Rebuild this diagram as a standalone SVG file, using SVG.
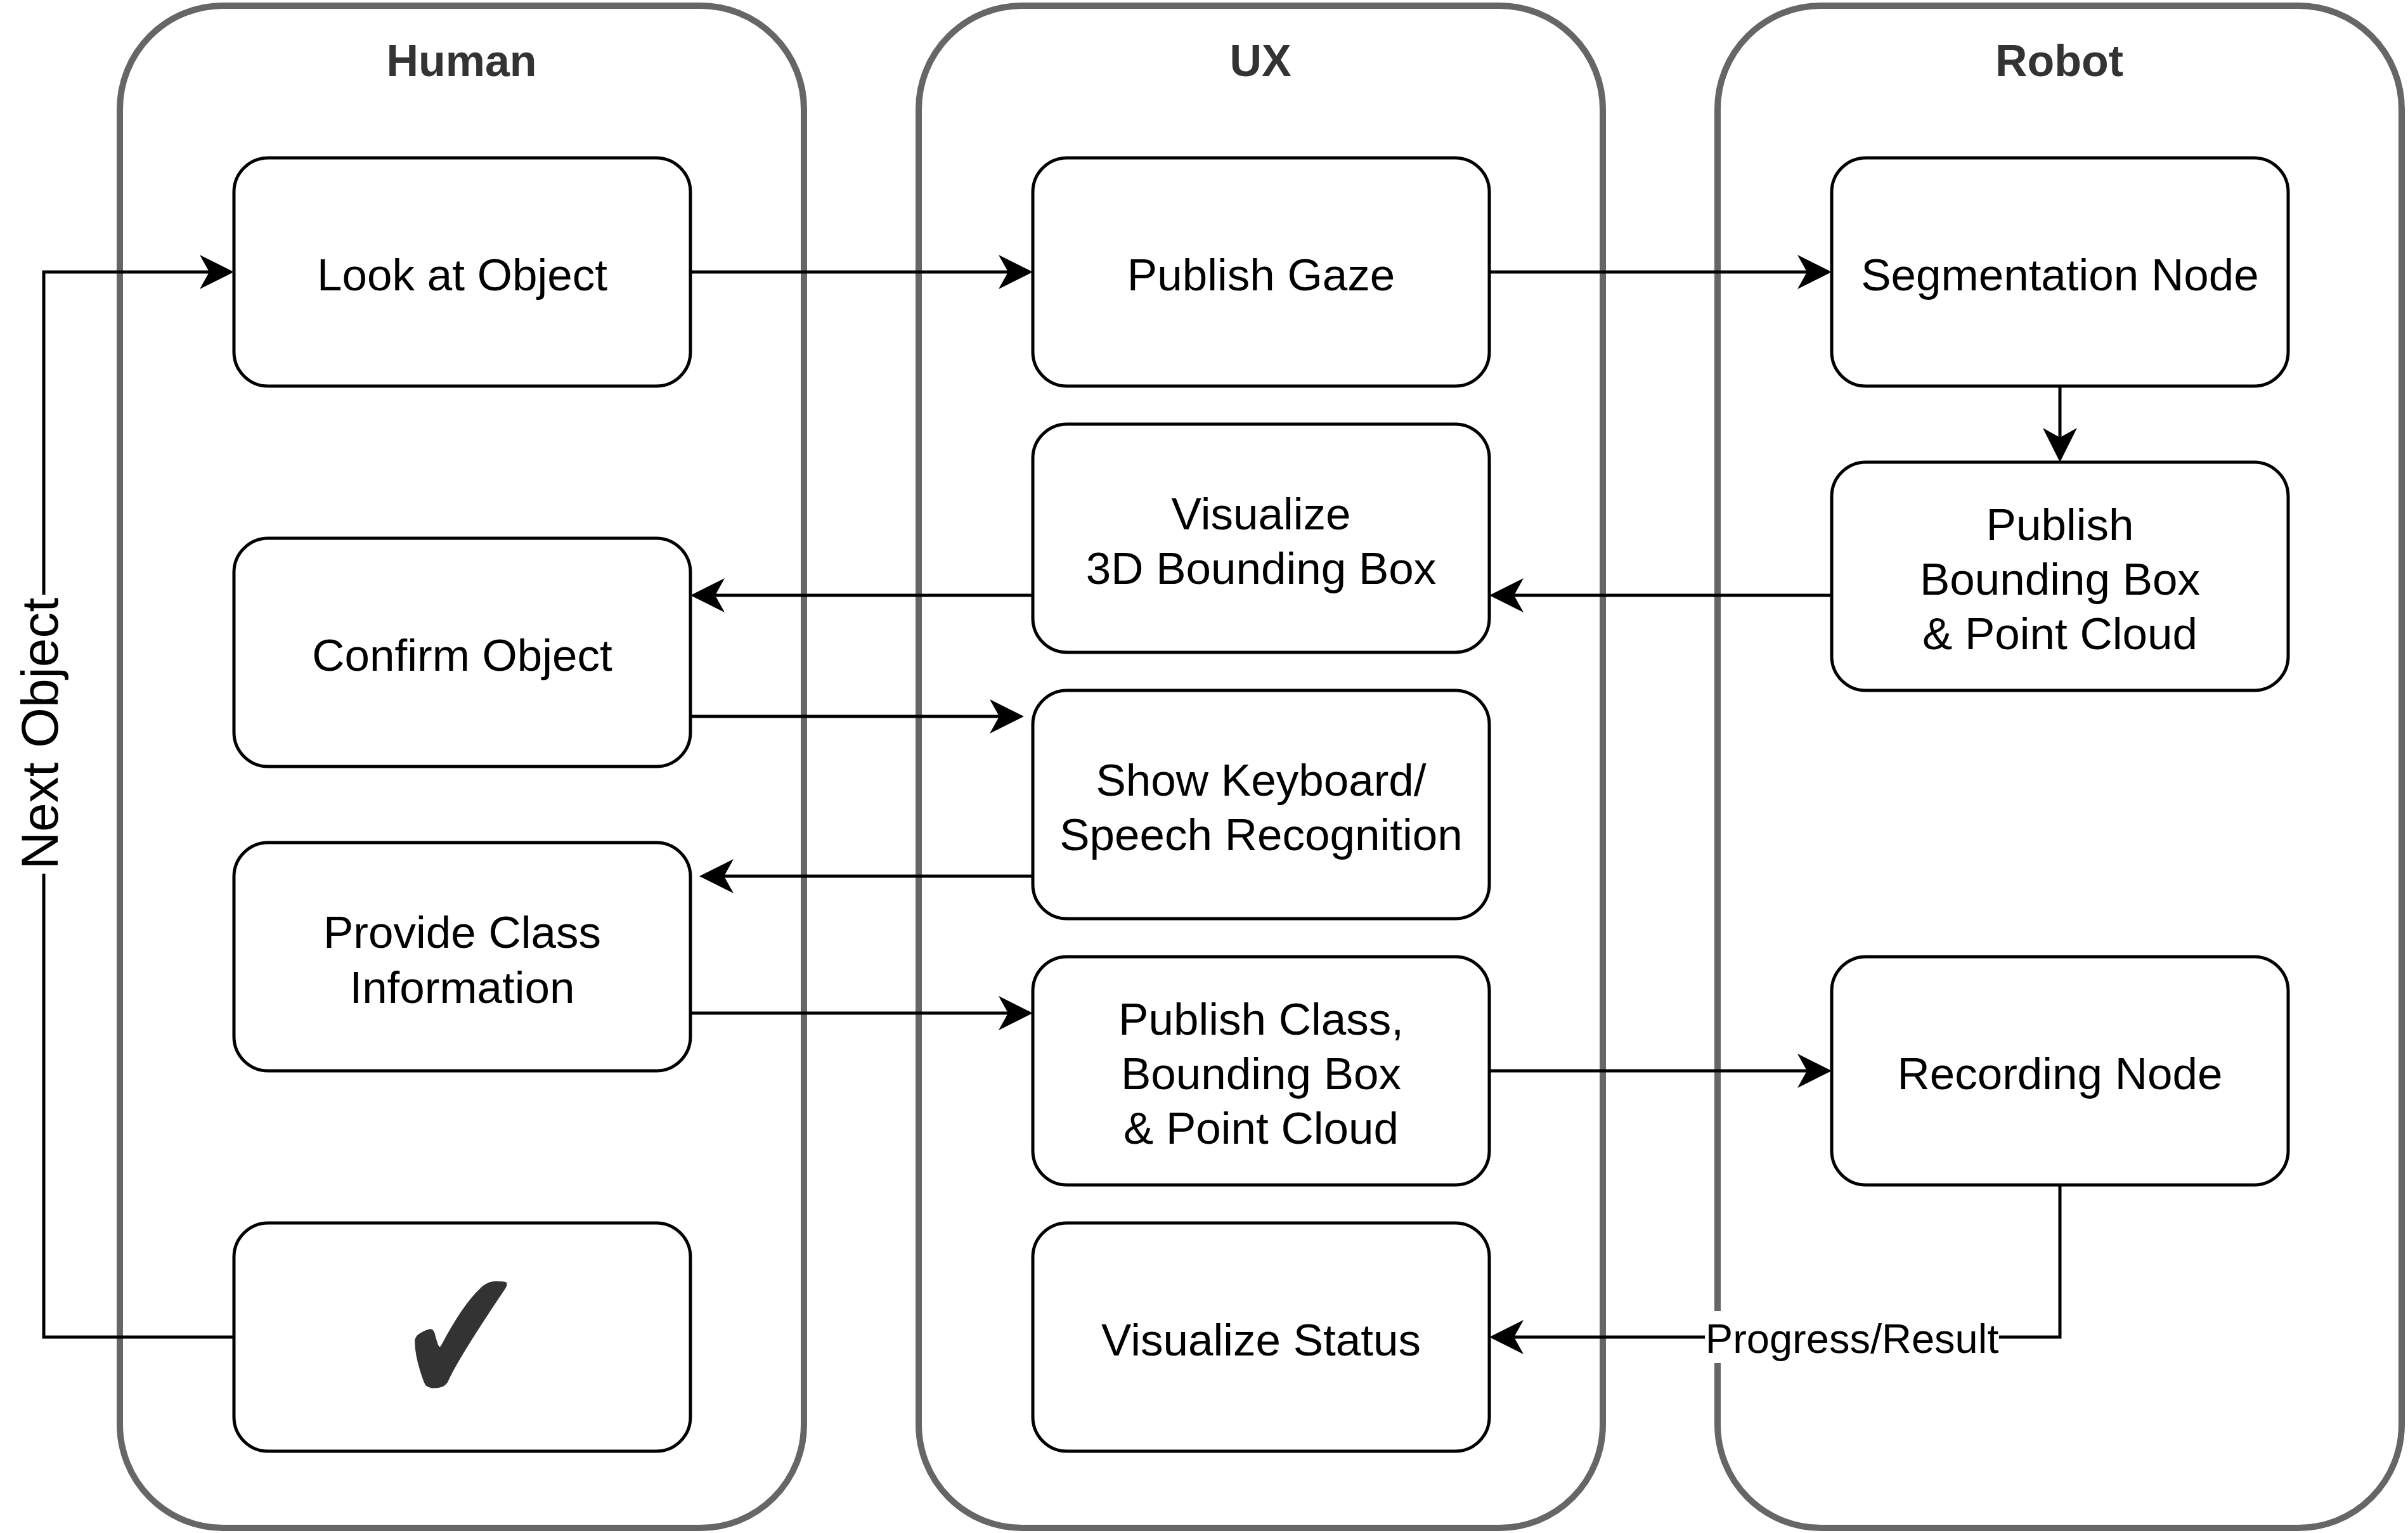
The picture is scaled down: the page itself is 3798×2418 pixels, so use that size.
<svg xmlns="http://www.w3.org/2000/svg" width="3798" height="2418" viewBox="0 0 3798 2418">
<style>
.lane{fill:#fff;stroke:#666;stroke-width:10}
.lt{font-family:"Liberation Sans",Arial,sans-serif;font-size:70px;font-weight:bold;fill:#333;text-anchor:middle}
.node rect{fill:#fff;stroke:#000;stroke-width:5}
.node text{font-family:"Liberation Sans",Arial,sans-serif;font-size:71px;fill:#000;text-anchor:middle}
.edge{fill:none;stroke:#000;stroke-width:5}
.el{font-family:"Liberation Sans",Arial,sans-serif;fill:#000;text-anchor:middle}
</style>
<defs>
<marker id="arr" markerUnits="userSpaceOnUse" viewBox="0 0 54 54" markerWidth="54" markerHeight="54" refX="15" refY="27" orient="auto">
<path d="M0,0 L54,27 L0,54 L15,27 Z" fill="#000"/>
</marker>
</defs>
<rect width="3798" height="2418" fill="#fff"/>
<g id="lanes">
<g id="lane-human"><rect class="lane" x="189" y="9" width="1079" height="2401" rx="163" ry="163"/><text class="lt" x="728" y="120">Human</text></g>
<g id="lane-ux"><rect class="lane" x="1449" y="9" width="1079" height="2401" rx="163" ry="163"/><text class="lt" x="1988" y="120">UX</text></g>
<g id="lane-robot"><rect class="lane" x="2709" y="9" width="1079" height="2401" rx="163" ry="163"/><text class="lt" x="3248" y="120">Robot</text></g>
</g>
<g id="connectors">
<path class="edge" d="M1089,429 L1590,429" marker-end="url(#arr)"/>
<path class="edge" d="M2349,429 L2850,429" marker-end="url(#arr)"/>
<path class="edge" d="M3249,609 L3249,690" marker-end="url(#arr)"/>
<path class="edge" d="M2889,939 L2388,939" marker-end="url(#arr)"/>
<path class="edge" d="M1629,939 L1128,939" marker-end="url(#arr)"/>
<path class="edge" d="M1089,1130 L1576,1130" marker-end="url(#arr)"/>
<path class="edge" d="M1629,1382 L1142,1382" marker-end="url(#arr)"/>
<path class="edge" d="M1089,1598 L1590,1598" marker-end="url(#arr)"/>
<path class="edge" d="M2349,1689 L2850,1689" marker-end="url(#arr)"/>
<path class="edge" d="M3249,1869 L3249,2109 L2388,2109" marker-end="url(#arr)"/>
<path class="edge" d="M369,2109 L69,2109 L69,429 L330,429" marker-end="url(#arr)"/>
<rect x="2689" y="2068" width="464" height="82" fill="#fff"/>
<text class="el" x="2921" y="2134" font-size="65">Progress/Result</text>
<rect x="40" y="938" width="60" height="440" fill="#fff"/>
<text class="el" font-size="82" transform="translate(91,1157) rotate(-90)">Next Object</text>
</g>
<g id="n-look" class="node"><rect x="369" y="249" width="720" height="360" rx="54"/><text x="729" y="458">Look at Object</text></g>
<g id="n-confirm" class="node"><rect x="369" y="849" width="720" height="360" rx="54"/><text x="729" y="1058">Confirm Object</text></g>
<g id="n-provide" class="node"><rect x="369" y="1329" width="720" height="360" rx="54"/><text x="729" y="1495">Provide Class</text><text x="729" y="1582">Information</text></g>
<g id="n-check" class="node"><rect x="369" y="1929" width="720" height="360" rx="54"/><text transform="translate(727,2108) scale(1.2,1.55)" x="0" y="70" style="font-family:'DejaVu Sans',sans-serif;font-size:200px;fill:#333">✔</text></g>
<g id="n-gaze" class="node"><rect x="1629" y="249" width="720" height="360" rx="54"/><text x="1989" y="458">Publish Gaze</text></g>
<g id="n-vis3d" class="node"><rect x="1629" y="669" width="720" height="360" rx="54"/><text x="1989" y="835">Visualize</text><text x="1989" y="921">3D Bounding Box</text></g>
<g id="n-keyboard" class="node"><rect x="1629" y="1089" width="720" height="360" rx="54"/><text x="1989" y="1255">Show Keyboard/</text><text x="1989" y="1341">Speech Recognition</text></g>
<g id="n-pubclass" class="node"><rect x="1629" y="1509" width="720" height="360" rx="54"/><text x="1989" y="1632">Publish Class,</text><text x="1989" y="1718">Bounding Box</text><text x="1989" y="1804">&amp; Point Cloud</text></g>
<g id="n-visstatus" class="node"><rect x="1629" y="1929" width="720" height="360" rx="54"/><text x="1989" y="2138">Visualize Status</text></g>
<g id="n-seg" class="node"><rect x="2889" y="249" width="720" height="360" rx="54"/><text x="3249" y="458">Segmentation Node</text></g>
<g id="n-pubbb" class="node"><rect x="2889" y="729" width="720" height="360" rx="54"/><text x="3249" y="852">Publish</text><text x="3249" y="938">Bounding Box</text><text x="3249" y="1024">&amp; Point Cloud</text></g>
<g id="n-rec" class="node"><rect x="2889" y="1509" width="720" height="360" rx="54"/><text x="3249" y="1718">Recording Node</text></g>
</svg>
